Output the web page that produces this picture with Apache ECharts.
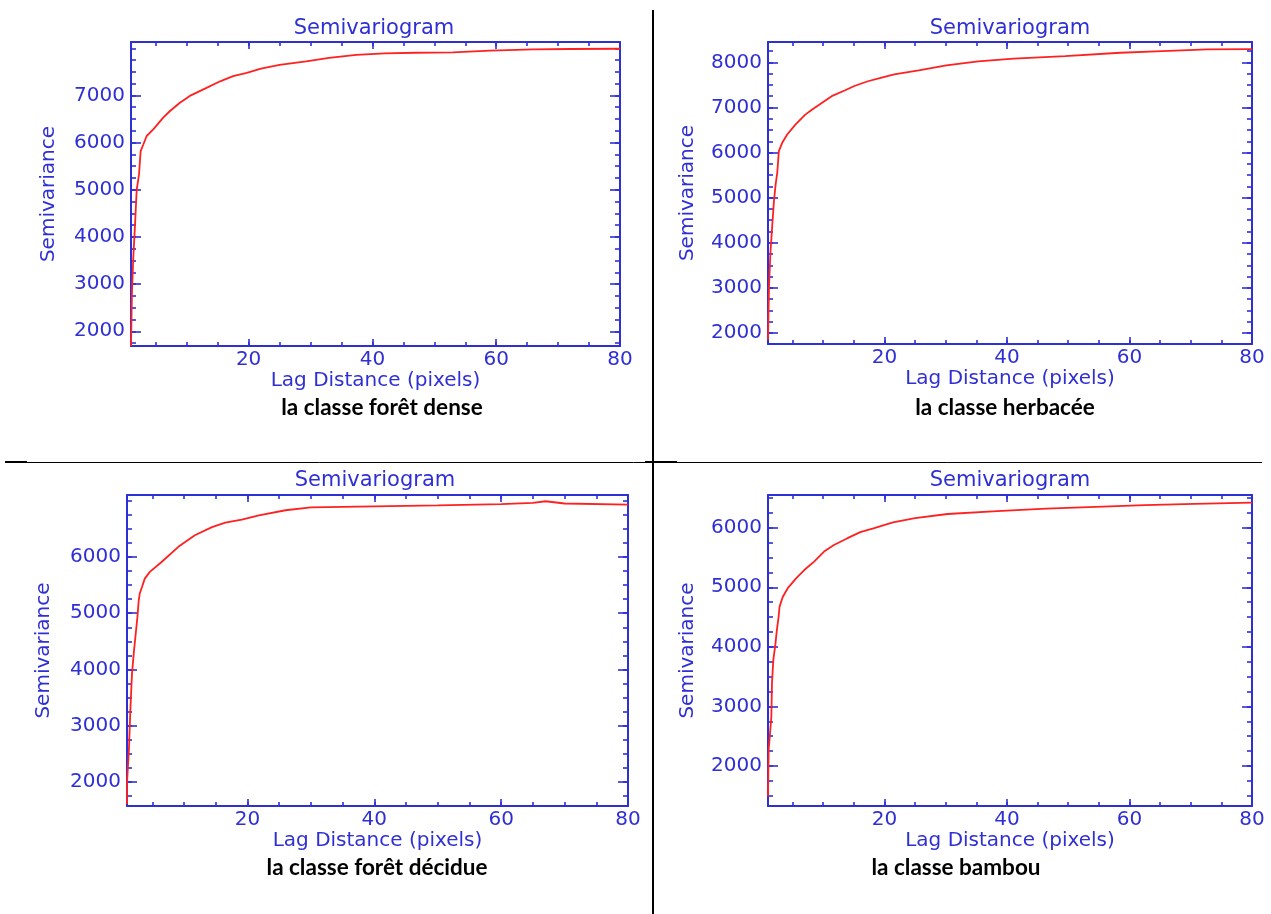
<!DOCTYPE html>
<html><head><meta charset="utf-8">
<script src="https://cdn.jsdelivr.net/npm/echarts@6/dist/echarts.min.js"></script>
<style>html,body{margin:0;padding:0;background:#fff}#c{width:1271px;height:914px}</style>
</head><body><div id="c"></div>
<script>
// ---- data ----
const lagLabels = [20, 40, 60, 80];

const denseLag   = [1, 1.16, 1.37, 1.65, 1.92, 2.29, 2.56, 2.99, 3.53, 4.6, 6.2, 7.3, 8.9, 10.5, 13.2, 15.4, 17.5, 19.7, 22, 25, 29.3, 33, 37.4, 42, 47, 53, 59, 66, 72, 80];
const denseGamma = [1690, 2850, 3560, 4260, 5000, 5320, 5820, 5960, 6140, 6280, 6530, 6670, 6845, 6990, 7160, 7300, 7410, 7480, 7570, 7650, 7720, 7795, 7860, 7890, 7905, 7913, 7949, 7975, 7985, 7990];
const denseYTicks = [2000, 3000, 4000, 5000, 6000, 7000];

const herbLag   = [1, 1.16, 1.38, 1.7, 1.97, 2.24, 2.51, 2.77, 3.32, 4.13, 5.47, 7.08, 8.16, 9.77, 11.4, 13.5, 15.1, 17.3, 19.4, 21.6, 25.6, 30.1, 35.3, 41.1, 49.5, 58.5, 64.3, 72.7, 80];
const herbGamma = [1850, 3000, 3740, 4400, 4920, 5290, 5550, 6030, 6215, 6400, 6620, 6840, 6950, 7100, 7250, 7375, 7475, 7580, 7655, 7730, 7820, 7930, 8020, 8080, 8137, 8212, 8242, 8286, 8290];
const herbYTicks = [2000, 3000, 4000, 5000, 6000, 7000, 8000];

const decidLag   = [1, 1, 1.32, 1.53, 1.79, 2.11, 2.38, 2.64, 2.85, 3.01, 3.38, 3.8, 4.6, 6.45, 9.1, 11.7, 14.4, 16.5, 19.1, 21.8, 26, 30, 40, 50, 60, 65, 67, 70, 80];
const decidGamma = [1610, 1980, 2625, 3280, 3930, 4340, 4640, 4930, 5230, 5350, 5470, 5615, 5735, 5910, 6180, 6385, 6530, 6610, 6665, 6740, 6830, 6880, 6900, 6915, 6940, 6960, 6990, 6950, 6930];
const decidYTicks = [2000, 3000, 4000, 5000, 6000];

const bambLag   = [1, 1.11, 1.55, 1.65, 1.87, 2.19, 2.45, 2.73, 2.89, 3.42, 4.23, 5.58, 6.92, 8.53, 10.15, 11.76, 13.9, 16.06, 18.2, 21.4, 25, 30.3, 38.4, 46.4, 54.5, 62.5, 70.6, 80];
const bambGamma = [1490, 2270, 2830, 3390, 3780, 4030, 4285, 4505, 4675, 4840, 4985, 5150, 5290, 5430, 5600, 5710, 5820, 5925, 5990, 6090, 6160, 6230, 6280, 6320, 6350, 6380, 6400, 6420];
const bambYTicks = [2000, 3000, 4000, 5000, 6000];

const chartTitle = 'Semivariogram';
const xName = 'Lag Distance (pixels)';
const yName = 'Semivariance';
const captions = ['la classe forêt dense', 'la classe herbacée', 'la classe forêt décidue', 'la classe bambou'];

// ---- layout ----
const BLUE = '#2f2fd6';
const RED = '#ff2020';
const FONT = 'DejaVu Sans';

const panels = [
  {lag: denseLag, gamma: denseGamma, yTicks: denseYTicks, yMin: 1688, yMax: 8133,
   box: {left: 131, top: 42, width: 489, height: 304}, yGap: 72,
   titleXY: [374, 29], capXY: [382, 408]},
  {lag: herbLag, gamma: herbGamma, yTicks: herbYTicks, yMin: 1756, yMax: 8450,
   box: {left: 768, top: 42, width: 484, height: 302}, yGap: 70,
   titleXY: [1010, 29], capXY: [1005, 408]},
  {lag: decidLag, gamma: decidGamma, yTicks: decidYTicks, yMin: 1574, yMax: 7101,
   box: {left: 127, top: 495, width: 501, height: 311}, yGap: 73,
   titleXY: [375, 481], capXY: [377, 868]},
  {lag: bambLag, gamma: bambGamma, yTicks: bambYTicks, yMin: 1329, yMax: 6549,
   box: {left: 768, top: 495, width: 484, height: 311}, yGap: 70,
   titleXY: [1010, 481], capXY: [956, 868]}
];

const grid = [], xAxis = [], yAxis = [], series = [], graphic = [];

const xMinor = [];
for (let v = 5; v < 80; v += 5) xMinor.push(v);
const plain = v => String(v);

panels.forEach((p, i) => {
  grid.push(Object.assign({containLabel: false, outerBoundsMode: 'none'}, p.box));
  const yMinor = [];
  for (let v = Math.ceil(p.yMin / 250) * 250; v <= p.yMax; v += 250) yMinor.push(v);

  const xb = {type: 'value', gridIndex: i, min: 1, max: 80, splitLine: {show: false},
    axisLine: {show: false}, axisLabel: {show: false}, axisTick: {show: false}};
  const yb = {type: 'value', gridIndex: i, min: p.yMin, max: p.yMax, splitLine: {show: false},
    axisLine: {show: false}, axisLabel: {show: false}, axisTick: {show: false}};
  const lineOn = {show: true, lineStyle: {color: BLUE, width: 2}};
  const tick = (vals, len) => ({show: true, inside: true, length: len, customValues: vals,
    lineStyle: {color: BLUE, width: 1.6}});

  const xi = xAxis.length;
  xAxis.push(Object.assign({}, xb, {position: 'bottom', axisLine: lineOn,
    axisTick: tick(lagLabels, 7),
    axisLabel: {show: true, customValues: lagLabels, formatter: plain, color: BLUE, fontFamily: FONT, fontSize: 20, margin: 4},
    name: xName, nameLocation: 'middle', nameGap: 13,
    nameTextStyle: {color: BLUE, fontFamily: FONT, fontSize: 20}}));
  xAxis.push(Object.assign({}, xb, {position: 'bottom', axisTick: tick(xMinor, 4)}));
  xAxis.push(Object.assign({}, xb, {position: 'top', axisLine: lineOn, axisTick: tick(lagLabels, 7)}));
  xAxis.push(Object.assign({}, xb, {position: 'top', axisTick: tick(xMinor, 4)}));

  const yi = yAxis.length;
  yAxis.push(Object.assign({}, yb, {position: 'left', axisLine: lineOn,
    axisTick: tick(p.yTicks, 10),
    axisLabel: {show: true, customValues: p.yTicks, formatter: plain, color: BLUE, fontFamily: FONT, fontSize: 20, margin: 6},
    name: yName, nameLocation: 'middle', nameGap: p.yGap, nameRotate: 90,
    nameTextStyle: {color: BLUE, fontFamily: FONT, fontSize: 20}}));
  yAxis.push(Object.assign({}, yb, {position: 'left', axisTick: tick(yMinor, 5)}));
  yAxis.push(Object.assign({}, yb, {position: 'right', axisLine: lineOn, axisTick: tick(p.yTicks, 10)}));
  yAxis.push(Object.assign({}, yb, {position: 'right', axisTick: tick(yMinor, 5)}));

  series.push({type: 'line', xAxisIndex: xi, yAxisIndex: yi, symbol: 'none', smooth: false,
    clip: true, lineStyle: {color: RED, width: 1.8},
    data: p.lag.map((x, k) => [x, p.gamma[k]])});

  graphic.push({type: 'text', x: p.titleXY[0], y: p.titleXY[1],
    style: {text: chartTitle, fill: BLUE, font: '21px "DejaVu Sans"', align: 'center', verticalAlign: 'middle'}});
  graphic.push({type: 'text', x: p.capXY[0], y: p.capXY[1],
    style: {text: captions[i], fill: '#000', font: 'bold 22.5px Lato', align: 'center', verticalAlign: 'middle'}});
});

// separator lines of the page table
graphic.push({type: 'line', shape: {x1: 653, y1: 10, x2: 653, y2: 914}, style: {stroke: '#000', lineWidth: 2}});
graphic.push({type: 'line', shape: {x1: 5, y1: 462.5, x2: 1262, y2: 462.5}, style: {stroke: '#000', lineWidth: 1}});
graphic.push({type: 'line', shape: {x1: 5, y1: 462, x2: 27, y2: 462}, style: {stroke: '#000', lineWidth: 2}});
graphic.push({type: 'line', shape: {x1: 645, y1: 462, x2: 677, y2: 462}, style: {stroke: '#000', lineWidth: 2}});

const chart = echarts.init(document.getElementById('c'), null, {renderer: 'canvas'});
chart.setOption({animation: false, backgroundColor: '#fff', grid, xAxis, yAxis, series, graphic});
</script>
</body></html>
